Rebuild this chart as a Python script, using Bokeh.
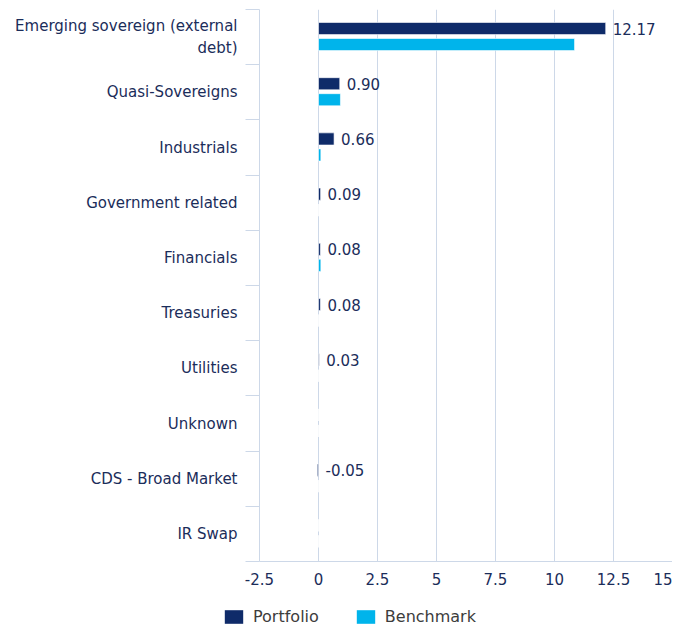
from bokeh.plotting import figure
from bokeh.models import (Range1d, FixedTicker, ColumnDataSource, Legend, LegendItem,
                          LinearAxis)
from bokeh.core.properties import value
from bokeh.embed import file_html
from bokeh.resources import INLINE

categories = ["Emerging sovereign (external\ndebt)", "Quasi-Sovereigns", "Industrials",
              "Government related", "Financials", "Treasuries", "Utilities", "Unknown",
              "CDS - Broad Market", "IR Swap"]
portfolio = [12.17, 0.90, 0.66, 0.09, 0.08, 0.08, 0.03, 0.0, -0.05, 0.0]
benchmark = [10.85, 0.93, 0.10, 0.0, 0.10, 0.0, 0.0, 0.0, 0.0, 0.0]
value_labels = ["12.17", "0.90", "0.66", "0.09", "0.08", "0.08", "0.03", "", "-0.05", ""]
x_ticks = [-2.5, 0, 2.5, 5, 7.5, 10, 12.5, 15]
x_tick_labels = ["-2.5", "0", "2.5", "5", "7.5", "10", "12.5", "15"]
series_names = ["Portfolio", "Benchmark"]

NAVY = "#0f2b69"
CYAN = "#00b4eb"
TEXT = "#1b2d5a"
GRID = "#cdd8e8"
FONT = "DejaVu Sans"

n = len(categories)
centers = [i + 0.5 for i in range(n)]
src = ColumnDataSource(dict(
    yp=[c - 0.155 for c in centers],
    yb=[c + 0.135 for c in centers],
    p=portfolio, b=benchmark,
    lx=[max(v, 0) for v in portfolio],
    lab=value_labels,
))

p = figure(frame_width=413, frame_height=552, output_backend="svg", toolbar_location=None,
           x_range=Range1d(x_ticks[0], x_ticks[-1]), y_range=Range1d(n, 0),
           x_axis_location=None, y_axis_location=None,
           min_border_left=259, min_border_right=0, min_border_top=9, min_border_bottom=36)
p.outline_line_color = None
p.background_fill_color = "white"

bar_style = dict(height=0.22, line_color="white", line_width=0.6)
p.hbar(y="yp", left=0, right="p", source=src, fill_color=NAVY, **bar_style)
p.hbar(y="yb", left=0, right="b", source=src, fill_color=CYAN, **bar_style)
p.text(x="lx", y="yp", text="lab", source=src, x_offset=7, text_baseline="middle",
       text_align="left", text_color=TEXT, text_font=value(FONT), text_font_size="15px")

# left axis
yax = LinearAxis(ticker=FixedTicker(ticks=centers, minor_ticks=list(range(n + 1))))
yax.major_label_overrides = {c: lab for c, lab in zip(centers, categories)}
yax.major_tick_out = 0
yax.major_tick_in = 0
yax.minor_tick_out = 14
yax.minor_tick_in = 0
yax.minor_tick_line_color = GRID
yax.axis_line_color = GRID
yax.major_label_standoff = 8
yax.major_label_text_font = FONT
yax.major_label_text_font_size = "15px"
yax.major_label_text_color = TEXT
p.add_layout(yax, "left")

# bottom axis
xax = LinearAxis(ticker=FixedTicker(ticks=x_ticks))
xax.major_label_overrides = {t: l for t, l in zip(x_ticks, x_tick_labels)}
xax.major_tick_out = 0
xax.major_tick_in = 0
xax.minor_tick_line_color = None
xax.axis_line_color = GRID
xax.major_label_standoff = 11
xax.major_label_text_font = FONT
xax.major_label_text_font_size = "15px"
xax.major_label_text_color = TEXT
p.add_layout(xax, "below")

p.xgrid.grid_line_color = GRID
p.xgrid.ticker = FixedTicker(ticks=x_ticks)
p.ygrid.grid_line_color = None

# legend strip (separate root so its frame spans the full width)
lg = figure(width=672, height=32, output_backend="svg", toolbar_location=None,
            x_range=Range1d(-3, -2), y_range=Range1d(-3, -2),
            x_axis_location=None, y_axis_location=None,
            min_border_left=0, min_border_right=0, min_border_top=0, min_border_bottom=0)
lg.outline_line_color = None
lg.border_fill_color = "white"
lg.background_fill_color = "white"
lg.xgrid.grid_line_color = None
lg.ygrid.grid_line_color = None
# same series, outside this strip's view: only their legend swatches show
e1 = lg.hbar(y="yp", left=0, right="p", source=src, fill_color=NAVY, height=0.22, line_color=None)
e2 = lg.hbar(y="yb", left=0, right="b", source=src, fill_color=CYAN, height=0.22, line_color=None)
legend = Legend(items=[LegendItem(label=series_names[0], renderers=[e1]),
                       LegendItem(label=series_names[1], renderers=[e2])],
                orientation="horizontal", location=(222, 3),
                glyph_width=23, glyph_height=17, label_height=17,
                label_standoff=8, spacing=35, padding=0, margin=0,
                border_line_color=None, background_fill_alpha=0,
                label_text_font=FONT, label_text_font_size="16px",
                label_text_color="#3c3c3c", label_text_baseline="middle")
lg.add_layout(legend, "center")

open("out.html", "w").write(file_html((p, lg), INLINE))
